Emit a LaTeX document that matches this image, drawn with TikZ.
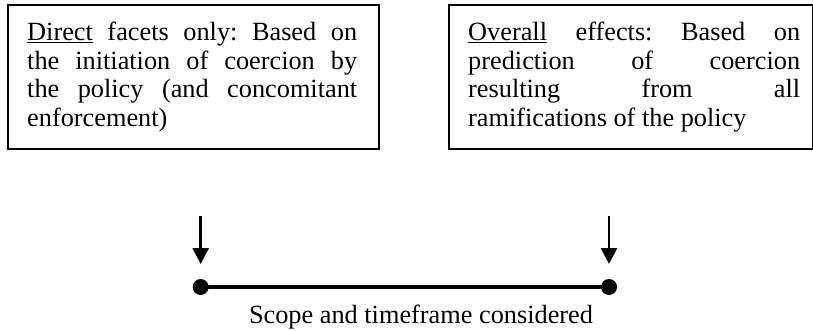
\documentclass[tikz,border=0pt]{standalone}
\usepackage{fontspec}
\setmainfont{Liberation Serif}
\usetikzlibrary{arrows.meta}
\frenchspacing
\begin{document}
\begin{tikzpicture}[x=1pt,y=-1pt,
  box/.style={draw=black,line width=2pt,minimum width=#1,minimum height=144pt,inner sep=0pt,anchor=north west},
  txt/.style={text width=#1,align=justify,inner sep=0pt,anchor=west,font=\fontsize{26.3}{28.7}\selectfont},
  down/.style={line width=2.8pt,-{Triangle[width=16pt,length=16pt]}},
  dot/.style={circle,fill=black,minimum size=16pt,inner sep=0pt},
  lbl/.style={font=\fontsize{26.3}{28.7}\selectfont,inner sep=0pt,anchor=base}]
\useasboundingbox (0,0) rectangle (813,331);
\node[box=371pt] (Lbox) at (7,4) {};
\node[txt=330pt] (Ltxt) at (27,77) {\underline{Direct} facets only: Based on\linebreak the initiation of coercion by\linebreak the policy (and concomitant\linebreak enforcement)};
\node[box=364pt] (Rbox) at (448,4) {};
\node[txt=332pt] (Rtxt) at (468,77) {\underline{Overall} effects: Based on\linebreak prediction of coercion\linebreak resulting from all\linebreak ramifications of the policy};
\node[dot] (d1) at (200.7,287) {};
\node[dot] (d2) at (609,287) {};
\draw[line width=4.5pt] (d1.center) -- (d2.center);
\coordinate (a1s) at (200.7,216);
\coordinate (a1e) at (200.7,264);
\coordinate (a2s) at (609,216);
\coordinate (a2e) at (609,264);
\draw[down] (a1s) -- (a1e);
\draw[down] (a2s) -- (a2e);
\node[lbl] (cap) at (421,323) {Scope and timeframe considered};
\end{tikzpicture}
\end{document}
